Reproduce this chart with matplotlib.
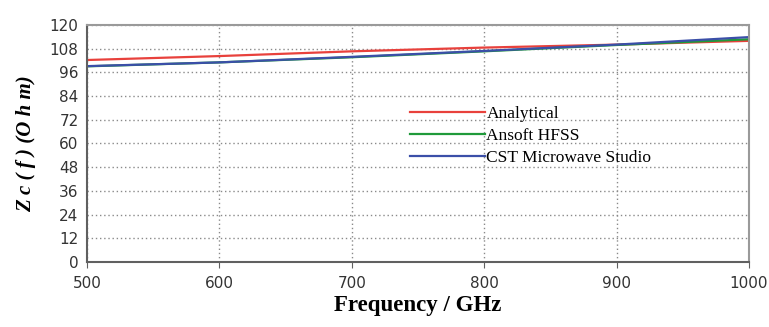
import matplotlib
matplotlib.use("Agg")
import matplotlib.pyplot as plt

# --- Data ---
freq = [500, 600, 700, 800, 900, 1000]
analytical = [102.2, 104.2, 106.6, 108.5, 110.0, 111.9]
hfss = [99.0, 101.0, 103.6, 106.6, 109.8, 112.7]
cst = [99.1, 101.0, 103.8, 106.8, 110.0, 113.8]

x_ticks = [500, 600, 700, 800, 900, 1000]
y_ticks = list(range(0, 121, 12))

fig = plt.figure(figsize=(7.69, 3.27), dpi=100)
ax = fig.add_axes([0.113, 0.199, 0.861, 0.725])

ax.plot(freq, analytical, color="#e8413c", lw=1.6, label="Analytical")
ax.plot(freq, hfss, color="#1f9a3a", lw=1.6, label="Ansoft HFSS")
ax.plot(freq, cst, color="#3b4fa8", lw=1.6, label="CST Microwave Studio")

ax.set_xlim(500, 1000)
ax.set_ylim(0, 120)
ax.set_xticks(x_ticks)
ax.set_yticks(y_ticks)

# --- Grid and frame ---
ax.grid(True, color="#8a8a8a", linestyle=(0, (1, 2)), linewidth=1.0)
for side in ["left", "bottom"]:
    ax.spines[side].set_color("#606060")
    ax.spines[side].set_linewidth(1.5)
for side in ["top", "right"]:
    ax.spines[side].set_color("#9a9a9a")
    ax.spines[side].set_linewidth(1.5)

ax.tick_params(axis="x", length=4, color="#606060", labelsize=11,
               labelcolor="#333333", pad=6)
ax.tick_params(axis="y", length=0, labelsize=11, labelcolor="#333333", pad=6)
for lab in ax.get_xticklabels() + ax.get_yticklabels():
    lab.set_family("DejaVu Sans")

ax.set_xlabel("Frequency / GHz", family="Liberation Serif", weight="bold",
              fontsize=16.5, labelpad=3)
ax.set_ylabel("Z c ( f ) (O h m)", family="Liberation Serif", weight="bold",
              style="italic", fontsize=15, labelpad=10)

# --- Legend (no frame) ---
ax.legend(loc="upper left", bbox_to_anchor=(0.488, 0.657), frameon=False,
          prop={"family": "Liberation Serif", "size": 12.5},
          handlelength=4.3, handletextpad=0.1, labelspacing=0.33,
          borderpad=0, borderaxespad=0)

fig.savefig("out.png", dpi=100)
